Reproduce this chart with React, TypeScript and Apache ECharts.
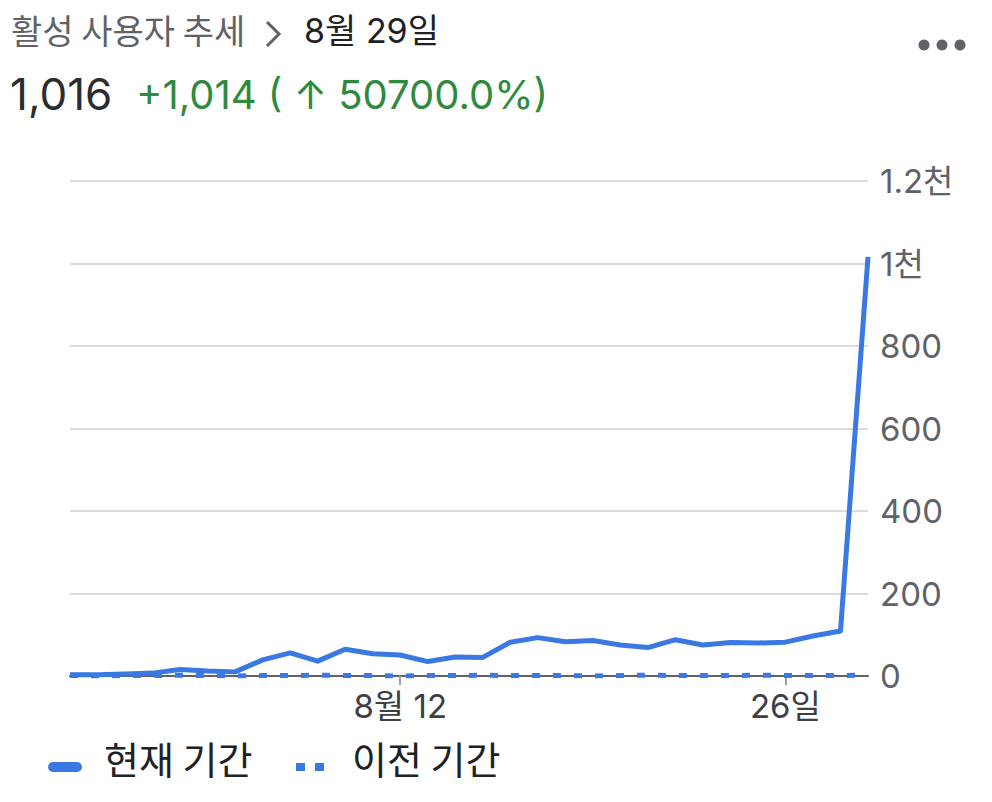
import React, { useEffect, useRef } from 'react';
import * as echarts from 'echarts';

// 7월 31일 ~ 8월 29일 (30일)
const days = [
  '07-31', '08-01', '08-02', '08-03', '08-04', '08-05', '08-06', '08-07', '08-08', '08-09',
  '08-10', '08-11', '08-12', '08-13', '08-14', '08-15', '08-16', '08-17', '08-18', '08-19',
  '08-20', '08-21', '08-22', '08-23', '08-24', '08-25', '08-26', '08-27', '08-28', '08-29',
];

const currentUsers = [
  3, 3, 5, 7, 16, 12, 10, 39, 56, 36,
  65, 54, 51, 35, 46, 45, 82, 93, 83, 86,
  75, 69, 88, 75, 81, 80, 82, 97, 109, 1016,
];

const previousUsers = [
  1, 0, 1, 1, 2, 1, 0, 1, 1, 2,
  1, 1, 0, 1, 1, 2, 1, 1, 1, 0,
  1, 2, 1, 1, 1, 2, 1, 1, 1, 2,
];

// x축에 표시되는 눈금 라벨
const xTickLabels: Record<string, string> = {
  '08-12': '8월 12',
  '08-26': '26일',
};

const yTickLabels: Record<number, string> = {
  1200: '1.2천',
  1000: '1천',
};

const BLUE = '#3a78e4';
const GREY = '#5f6368';
const DARK = '#202124';
const GREEN = '#2f8a3e';
const LATIN = 'Inter, Roboto, "Noto Sans CJK KR", sans-serif';
const HANGUL = '"Noto Sans CJK KR", Inter, sans-serif';

export default function App() {
  const elRef = useRef<HTMLDivElement | null>(null);

  useEffect(() => {
    if (!elRef.current) return;
    const chart = echarts.init(elRef.current, undefined, { renderer: 'svg' });

    const opt: echarts.EChartsOption = {
      animation: false,
      backgroundColor: '#ffffff',
      grid: { left: 70, right: 124, top: 181, bottom: 126 },
      xAxis: {
        type: 'category',
        data: days,
        boundaryGap: false,
        axisLine: { lineStyle: { color: GREY, width: 2 } },
        axisTick: {
          show: true,
          length: 9,
          lineStyle: { color: '#9aa0a6', width: 2 },
          interval: (_i: number, v: string) => v in xTickLabels,
        },
        axisLabel: {
          interval: (_i: number, v: string) => v in xTickLabels,
          formatter: (v: string) => xTickLabels[v] ?? '',
          color: '#3c4043',
          fontSize: 33,
          fontFamily: LATIN,
          margin: 13,
        },
      },
      yAxis: {
        type: 'value',
        position: 'right',
        min: 0,
        max: 1200,
        interval: 200,
        axisLine: { show: false },
        axisTick: { show: false },
        splitLine: { lineStyle: { color: '#dadce0', width: 2 } },
        axisLabel: {
          formatter: (v: number) => yTickLabels[v] ?? String(v),
          color: GREY,
          fontSize: 33,
          fontFamily: LATIN,
          margin: 12,
        },
      },
      series: [
        {
          name: '이전 기간',
          type: 'line',
          data: previousUsers,
          showSymbol: false,
          z: 4,
          lineStyle: { color: BLUE, width: 5, type: [8, 13] },
        },
        {
          name: '현재 기간',
          type: 'line',
          data: currentUsers,
          showSymbol: false,
          z: 3,
          lineStyle: { color: BLUE, width: 5, join: 'round' },
        },
      ],
      graphic: [
        {
          type: 'text',
          left: 11,
          top: 12,
          style: { text: '활성 사용자 추세', fontSize: 34, fontFamily: HANGUL, fill: GREY },
        },
        {
          type: 'polyline',
          shape: { points: [[267, 22], [279, 34], [267, 46]] },
          style: { stroke: GREY, lineWidth: 3, fill: 'none' },
        },
        {
          type: 'text',
          left: 304,
          top: 13,
          style: { text: '8월 29일', fontSize: 34, fontFamily: LATIN, fill: DARK },
        },
        { type: 'circle', shape: { cx: 924, cy: 45, r: 5.5 }, style: { fill: GREY } },
        { type: 'circle', shape: { cx: 942, cy: 45, r: 5.5 }, style: { fill: GREY } },
        { type: 'circle', shape: { cx: 960, cy: 45, r: 5.5 }, style: { fill: GREY } },
        {
          type: 'text',
          left: 10,
          top: 72,
          style: { text: '1,016', fontSize: 44, fontFamily: LATIN, fill: '#2b2d30' },
        },
        {
          type: 'text',
          left: 136,
          top: 74,
          style: { text: '+1,014 ( ↑ 50700.0%)', fontSize: 40, fontFamily: LATIN, fill: GREEN },
        },
        {
          type: 'rect',
          shape: { x: 48, y: 762, width: 34, height: 10, r: 5 },
          style: { fill: BLUE },
        },
        {
          type: 'text',
          left: 104,
          top: 738,
          style: { text: '현재 기간', fontSize: 38, fontFamily: HANGUL, fill: DARK },
        },
        { type: 'rect', shape: { x: 296, y: 763, width: 9, height: 8 }, style: { fill: BLUE } },
        { type: 'rect', shape: { x: 315, y: 763, width: 9, height: 8 }, style: { fill: BLUE } },
        {
          type: 'text',
          left: 352,
          top: 738,
          style: { text: '이전 기간', fontSize: 38, fontFamily: HANGUL, fill: DARK },
        },
      ],
    };

    chart.setOption(opt);
    return () => {
      chart.dispose();
    };
  }, []);

  return (
    <div
      ref={elRef}
      style={{ position: 'absolute', left: 0, top: 0, width: 992, height: 802 }}
    />
  );
}
